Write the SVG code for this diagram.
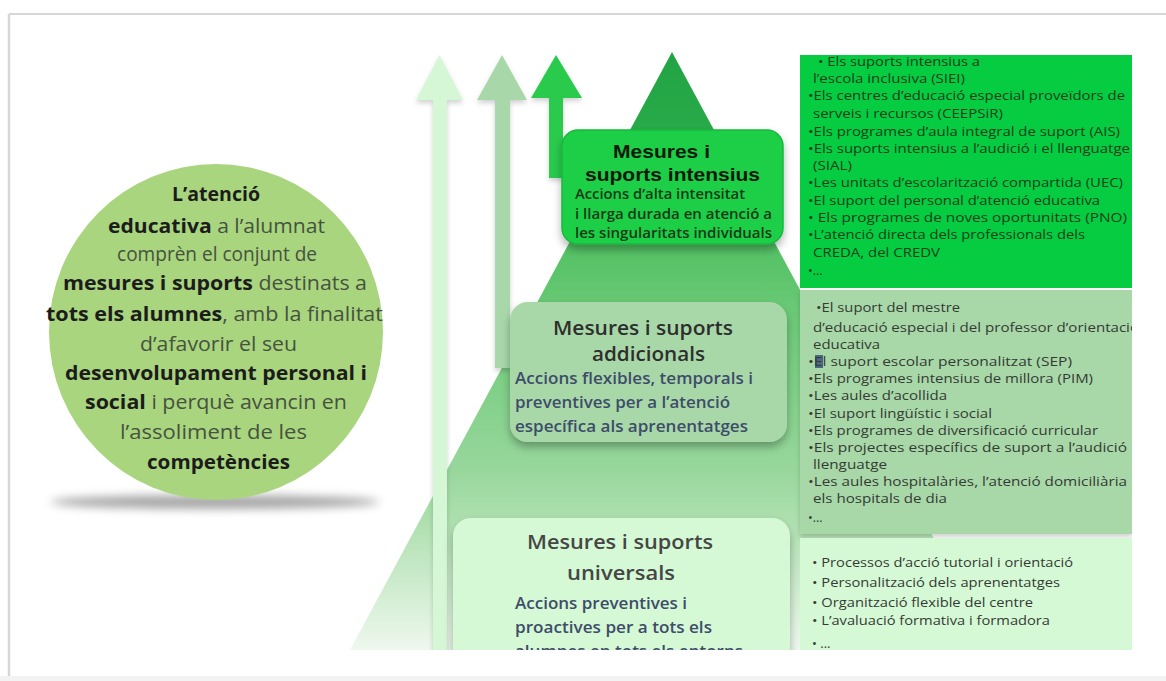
<svg xmlns="http://www.w3.org/2000/svg" width="1166" height="681" viewBox="0 0 1166 681">
<style>
.os{font-family:"Open Sans","Liberation Sans",sans-serif}
.ar{font-family:"Liberation Sans",Arial,sans-serif;font-weight:700}
.circ{font-family:"Open Sans","Liberation Sans",sans-serif;font-size:20px;fill:#46523e}
.circ .b{font-weight:700;fill:#1c1c1c}
.li1{font-family:"Open Sans","Liberation Sans",sans-serif;font-size:12.5px;fill:#17401b}
.li2{font-family:"Open Sans","Liberation Sans",sans-serif;font-size:12.5px;fill:#353a35}
.li3{font-family:"Open Sans","Liberation Sans",sans-serif;font-size:13px;fill:#353a35}
.ttl{font-family:"Open Sans","Liberation Sans",sans-serif;font-weight:600;font-size:20.5px}
.sub{font-family:"Open Sans","Liberation Sans",sans-serif;font-weight:600;font-size:15.5px;fill:#3e4c6a}
.arrow{stroke:none}
</style>
<defs>
<linearGradient id="pyr" x1="0" y1="52" x2="0" y2="650" gradientUnits="userSpaceOnUse">
<stop offset="0" stop-color="#22a444"/>
<stop offset="0.15" stop-color="#2aab4a"/>
<stop offset="0.32" stop-color="#52c163"/>
<stop offset="0.42" stop-color="#68c874"/>
<stop offset="0.7" stop-color="#98d79c"/>
<stop offset="0.78" stop-color="#addfae"/>
<stop offset="1" stop-color="#eef8ee"/>
</linearGradient>
<filter id="sh" x="-10%" y="-10%" width="130%" height="140%">
<feDropShadow dx="0" dy="5" stdDeviation="4" flood-color="#000" flood-opacity="0.3"/>
</filter>
<filter id="sh2" x="-10%" y="-10%" width="130%" height="140%">
<feDropShadow dx="0" dy="3" stdDeviation="2.5" flood-color="#000" flood-opacity="0.18"/>
</filter>
<filter id="blur" x="-20%" y="-200%" width="140%" height="500%">
<feGaussianBlur stdDeviation="5"/>
</filter>
<clipPath id="content"><rect x="0" y="50" width="1132" height="600"/></clipPath>
<clipPath id="topPanel"><rect x="800" y="55" width="332" height="233"/></clipPath>
<clipPath id="circClip"><rect x="48" y="100" width="400" height="450"/></clipPath>
</defs>
<rect x="0" y="0" width="1166" height="681" fill="#ffffff"/>
<g id="frame">
<line x1="9" y1="14" x2="1166" y2="14" stroke="#d6d6d6" stroke-width="2"/>
<line x1="9" y1="14" x2="9" y2="681" stroke="#d6d6d6" stroke-width="2.5"/>
<rect x="0" y="676" width="1166" height="5" fill="#f3f3f3"/>
</g>
<g clip-path="url(#content)">
<g id="pyramid">
<polygon points="672,52 350,650 994,650" fill="url(#pyr)"/>
</g>
<g id="connectors">
<polygon class="arrow" filter="url(#sh2)" points="433,660 433,100 416,100 439.5,55 463,100 447,100 447,660" fill="#d5f7d5"/>
<polygon class="arrow" filter="url(#sh2)" points="495,368 495,100 477,100 502,55 527,100 510,100 510,368" fill="#a8d8aa"/>
<polygon class="arrow" filter="url(#sh2)" points="549,178 549,98 531,98 556,55 582,98 563,98 563,178" fill="#2bcb4e"/>
</g>
<g id="node-intensius">
<rect x="562" y="130" width="221" height="114" rx="16" fill="#1ecf46" stroke="#18b83e" stroke-width="1.5" filter="url(#sh)"/>
<text class="ar" x="613" y="158" font-size="19" fill="#0c1a0c" textLength="97" lengthAdjust="spacingAndGlyphs">Mesures i</text>
<text class="ar" x="585" y="181" font-size="19" fill="#0c1a0c" textLength="175" lengthAdjust="spacingAndGlyphs">suports intensius</text>
<text class="os" x="575" y="199" font-size="13.5" font-weight="600" fill="#163a18" textLength="170" lengthAdjust="spacingAndGlyphs">Accions d’alta intensitat</text>
<text class="os" x="575" y="219" font-size="13.5" font-weight="600" fill="#163a18" textLength="197" lengthAdjust="spacingAndGlyphs">i llarga durada en atenció a</text>
<text class="os" x="575" y="238" font-size="13.5" font-weight="600" fill="#163a18" textLength="197" lengthAdjust="spacingAndGlyphs">les singularitats individuals</text>
</g>
<g id="node-addicionals">
<rect x="510" y="302" width="277" height="140" rx="18" fill="#a8d8a8" filter="url(#sh)"/>
<text class="ttl" x="553" y="335" fill="#2e2e2e" textLength="180" lengthAdjust="spacingAndGlyphs">Mesures i suports</text>
<text class="ttl" x="592" y="361" fill="#2e2e2e" textLength="113" lengthAdjust="spacingAndGlyphs">addicionals</text>
<text class="sub" x="515" y="384" textLength="238" lengthAdjust="spacingAndGlyphs">Accions flexibles, temporals i</text>
<text class="sub" x="515" y="408" textLength="215" lengthAdjust="spacingAndGlyphs">preventives per a l’atenció</text>
<text class="sub" x="515" y="432" textLength="233" lengthAdjust="spacingAndGlyphs">específica als aprenentatges</text>
</g>
<g id="node-universals">
<rect x="453" y="518" width="337" height="170" rx="18" fill="#d5f9d5" filter="url(#sh)"/>
<text class="ttl" x="527" y="549" fill="#464646" textLength="186" lengthAdjust="spacingAndGlyphs">Mesures i suports</text>
<text class="ttl" x="567" y="580" fill="#464646" textLength="108" lengthAdjust="spacingAndGlyphs">universals</text>
<text class="sub" x="515" y="609" textLength="172" lengthAdjust="spacingAndGlyphs">Accions preventives i</text>
<text class="sub" x="515" y="633" textLength="197" lengthAdjust="spacingAndGlyphs">proactives per a tots els</text>
<text class="sub" x="515" y="657" textLength="228" lengthAdjust="spacingAndGlyphs">alumnes en tots els entorns</text>
</g>
<g id="list-intensius" clip-path="url(#topPanel)">
<rect x="800" y="55" width="332" height="233" fill="#05cc40"/>
<text class="li1" x="818" y="66" textLength="162" lengthAdjust="spacingAndGlyphs">• Els suports intensius a</text>
<text class="li1" x="813" y="83" textLength="152" lengthAdjust="spacingAndGlyphs">l’escola inclusiva (SIEI)</text>
<text class="li1" x="808" y="100" textLength="317" lengthAdjust="spacingAndGlyphs">•Els centres d’educació especial proveïdors de</text>
<text class="li1" x="813" y="118" textLength="190" lengthAdjust="spacingAndGlyphs">serveis i recursos (CEEPSiR)</text>
<text class="li1" x="808" y="136" textLength="312" lengthAdjust="spacingAndGlyphs">•Els programes d’aula integral de suport (AIS)</text>
<text class="li1" x="808" y="153" textLength="322" lengthAdjust="spacingAndGlyphs">•Els suports intensius a l’audició i el llenguatge</text>
<text class="li1" x="813" y="170" textLength="39" lengthAdjust="spacingAndGlyphs">(SIAL)</text>
<text class="li1" x="808" y="187" textLength="315" lengthAdjust="spacingAndGlyphs">•Les unitats d’escolarització compartida (UEC)</text>
<text class="li1" x="808" y="205" textLength="292" lengthAdjust="spacingAndGlyphs">•El suport del personal d’atenció educativa</text>
<text class="li1" x="808" y="222" textLength="319" lengthAdjust="spacingAndGlyphs">• Els programes de noves oportunitats (PNO)</text>
<text class="li1" x="808" y="239" textLength="277" lengthAdjust="spacingAndGlyphs">•L’atenció directa dels professionals dels</text>
<text class="li1" x="813" y="257" textLength="127" lengthAdjust="spacingAndGlyphs">CREDA, del CREDV</text>
<text class="li1" x="808" y="275">•...</text>
</g>
<g id="list-addicionals">
<rect x="800" y="290" width="332" height="244" fill="#a8d8a8" filter="url(#sh2)"/>
<rect x="815" y="355" width="8" height="13" fill="#4a6684"/>
<text class="li2" x="816" y="312" textLength="144" lengthAdjust="spacingAndGlyphs">•El suport del mestre</text>
<text class="li2" x="813" y="332" textLength="326" lengthAdjust="spacingAndGlyphs">d’educació especial i del professor d’orientació</text>
<text class="li2" x="813" y="349" textLength="67" lengthAdjust="spacingAndGlyphs">educativa</text>
<text class="li2" x="808" y="366" textLength="264" lengthAdjust="spacingAndGlyphs">•El suport escolar personalitzat (SEP)</text>
<text class="li2" x="808" y="383" textLength="285" lengthAdjust="spacingAndGlyphs">•Els programes intensius de millora (PIM)</text>
<text class="li2" x="808" y="400" textLength="139" lengthAdjust="spacingAndGlyphs">•Les aules d’acollida</text>
<text class="li2" x="808" y="418" textLength="184" lengthAdjust="spacingAndGlyphs">•El suport lingüístic i social</text>
<text class="li2" x="808" y="435" textLength="290" lengthAdjust="spacingAndGlyphs">•Els programes de diversificació curricular</text>
<text class="li2" x="808" y="452" textLength="319" lengthAdjust="spacingAndGlyphs">•Els projectes específics de suport a l’audició</text>
<text class="li2" x="813" y="469" textLength="74" lengthAdjust="spacingAndGlyphs">llenguatge</text>
<text class="li2" x="808" y="486" textLength="319" lengthAdjust="spacingAndGlyphs">•Les aules hospitalàries, l’atenció domiciliària</text>
<text class="li2" x="813" y="503" textLength="134" lengthAdjust="spacingAndGlyphs">els hospitals de dia</text>
<text class="li2" x="808" y="522">•...</text>
</g>
<g id="list-universals">
<rect x="800" y="538" width="332" height="120" fill="#d5f9d5"/>
<text class="li3" x="812" y="567" textLength="261" lengthAdjust="spacingAndGlyphs">• Processos d’acció tutorial i orientació</text>
<text class="li3" x="812" y="587" textLength="248" lengthAdjust="spacingAndGlyphs">• Personalització dels aprenentatges</text>
<text class="li3" x="812" y="607" textLength="221" lengthAdjust="spacingAndGlyphs">• Organització flexible del centre</text>
<text class="li3" x="812" y="625" textLength="238" lengthAdjust="spacingAndGlyphs">• L’avaluació formativa i formadora</text>
<text class="li3" x="812" y="648">• ...</text>
</g>
</g>
<g id="node-atencio">
<ellipse cx="215" cy="502" rx="165" ry="7" fill="#000" opacity="0.35" filter="url(#blur)"/>
<g clip-path="url(#circClip)">
<ellipse cx="216" cy="332" rx="167" ry="168" fill="#a9d57e"/>
</g>
<text class="circ" x="172" y="201" textLength="88" lengthAdjust="spacingAndGlyphs"><tspan class="b">L’atenció</tspan></text>
<text class="circ" x="108" y="233" textLength="217" lengthAdjust="spacingAndGlyphs"><tspan class="b">educativa</tspan> a l’alumnat</text>
<text class="circ" x="117" y="261" textLength="200" lengthAdjust="spacingAndGlyphs">comprèn el conjunt de</text>
<text class="circ" x="63" y="290" textLength="304" lengthAdjust="spacingAndGlyphs"><tspan class="b">mesures i suports</tspan> destinats a</text>
<text class="circ" x="46" y="321" textLength="337" lengthAdjust="spacingAndGlyphs"><tspan class="b">tots els alumnes</tspan>, amb la finalitat</text>
<text class="circ" x="140" y="351" textLength="157" lengthAdjust="spacingAndGlyphs">d’afavorir el seu</text>
<text class="circ" x="65" y="380" textLength="302" lengthAdjust="spacingAndGlyphs"><tspan class="b">desenvolupament personal i</tspan></text>
<text class="circ" x="85" y="409" textLength="262" lengthAdjust="spacingAndGlyphs"><tspan class="b">social</tspan> i perquè avancin en</text>
<text class="circ" x="120" y="439" textLength="187" lengthAdjust="spacingAndGlyphs">l’assoliment de les</text>
<text class="circ" x="147" y="469" textLength="143" lengthAdjust="spacingAndGlyphs"><tspan class="b">competències</tspan></text>
</g>
</svg>
